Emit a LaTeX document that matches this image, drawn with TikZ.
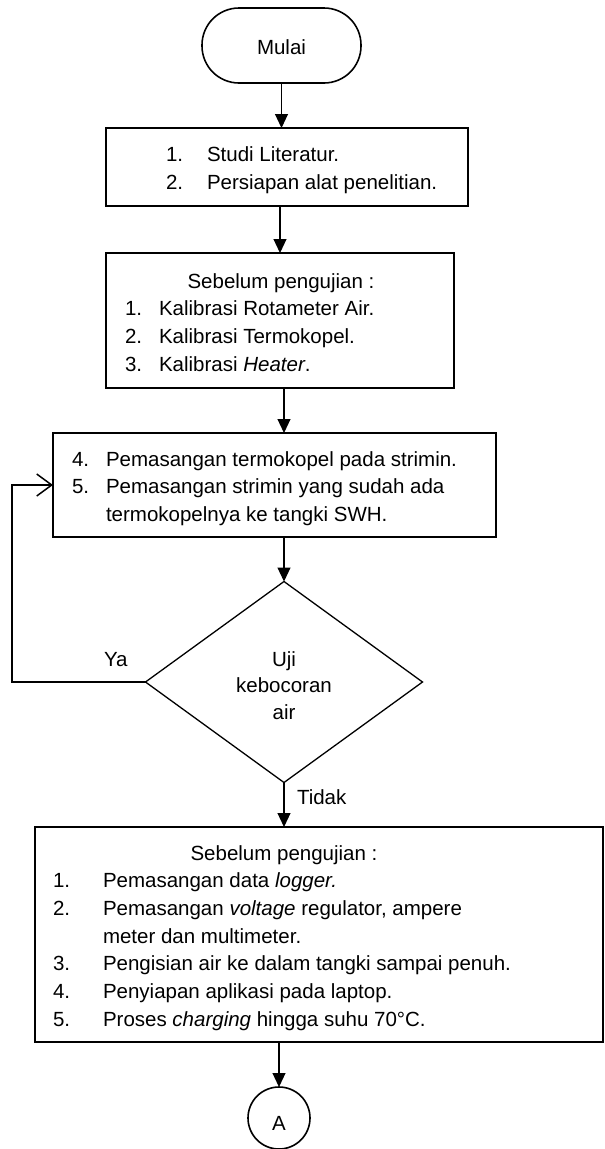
\documentclass[tikz,border=0pt]{standalone}
\usepackage{fontspec}
\setmainfont{Liberation Sans}
\usetikzlibrary{shapes.geometric,arrows.meta}
\begin{document}
\begin{tikzpicture}[x=1pt,y=-1pt,
  every node/.style={inner sep=0pt, outer sep=0pt},
  boxst/.style={draw, line width=1.6pt, rectangle},
  txt/.style={anchor=base west, font=\fontsize{20.5}{24}\selectfont},
  ctxt/.style={anchor=base, font=\fontsize{20.5}{24}\selectfont},
  arr/.style={line width=1.1pt, -{Triangle[length=14pt,width=13pt]}},
  looparr/.style={line width=1.5pt, -{Straight Barb[length=15pt,width=22pt,line width=1.5pt]}}]
\useasboundingbox (0,0) rectangle (605,1149);

% shapes
\node[boxst, rounded corners=37pt, minimum width=159pt, minimum height=75pt] (mulai) at (281.5,45.5) {};
\node[boxst, minimum width=362pt, minimum height=78pt] (box1) at (287,167) {};
\node[boxst, minimum width=348pt, minimum height=135pt] (box2) at (280,320.5) {};
\node[boxst, minimum width=443pt, minimum height=104pt] (box3) at (274.5,485) {};
\node[draw, line width=1.3pt, diamond, minimum width=277pt, minimum height=201pt] (dia) at (284,682) {};
\node[boxst, minimum width=568pt, minimum height=215pt] (box4) at (319,934.5) {};
\node[draw, line width=1.6pt, circle, minimum size=62pt] (circ) at (279,1118) {};
\coordinate (lp) at (12,682);

% texts
\node[ctxt] (tm) at (281.5,54) {Mulai};
\node[txt] (n11) at (166,161) {1.};
\node[txt] (s11) at (207,161) {Studi Literatur.};
\node[txt] (n12) at (166,189) {2.};
\node[txt] (s12) at (207,189) {Persiapan alat penelitian.};

\node[ctxt] (h2) at (281,288) {Sebelum pengujian :};
\node[txt] (n21) at (125,315) {1.};
\node[txt] (s21) at (159,315) {Kalibrasi Rotameter Air.};
\node[txt] (n22) at (125,343) {2.};
\node[txt] (s22) at (159,343) {Kalibrasi Termokopel.};
\node[txt] (n23) at (125,371) {3.};
\node[txt] (s23) at (159,371) {Kalibrasi \textit{Heater}.};

\node[txt] (n34) at (72,466) {4.};
\node[txt] (s34) at (106,466) {Pemasangan termokopel pada strimin.};
\node[txt] (n35) at (72,493) {5.};
\node[txt] (s35) at (106,493) {Pemasangan strimin yang sudah ada};
\node[txt] (s35b) at (106,521) {termokopelnya ke tangki SWH.};

\node[ctxt] (d1) at (284,666) {Uji};
\node[ctxt] (d2) at (284,692) {kebocoran};
\node[ctxt] (d3) at (284,719) {air};

\node[txt] (ya) at (104,666) {Ya};
\node[txt] (tidak) at (297,804) {Tidak};

\node[ctxt] (h4) at (284,860) {Sebelum pengujian :};
\node[txt] (n41) at (53,887) {1.};
\node[txt] (s41) at (103,887) {Pemasangan data \textit{logger.}};
\node[txt] (n42) at (53,915) {2.};
\node[txt] (s42) at (103,915) {Pemasangan \textit{voltage} regulator, ampere};
\node[txt] (s42b) at (103,943) {meter dan multimeter.};
\node[txt] (n43) at (53,970) {3.};
\node[txt] (s43) at (103,970) {Pengisian air ke dalam tangki sampai penuh.};
\node[txt] (n44) at (53,998) {4.};
\node[txt] (s44) at (103,998) {Penyiapan aplikasi pada laptop.};
\node[txt] (n45) at (53,1026) {5.};
\node[txt] (s45) at (103,1026) {Proses \textit{charging} hingga suhu 70°C.};

\node[ctxt] (ta) at (279,1130) {A};

% connectors
\draw[arr] (mulai.south) -- (mulai.south |- box1.north);
\draw[arr] (box1.south -| box2.north) -- (box2.north);
\draw[arr] (box2.south -| dia.north) -- (dia.north |- box3.north);
\draw[arr] (box3.south -| dia.north) -- (dia.north);
\draw[arr] (dia.south) -- (dia.south |- box4.north);
\draw[arr] (box4.south -| circ.north) -- (circ.north);
\draw[looparr] (dia.west) -- (lp) |- (box3.west);
\end{tikzpicture}
\end{document}
